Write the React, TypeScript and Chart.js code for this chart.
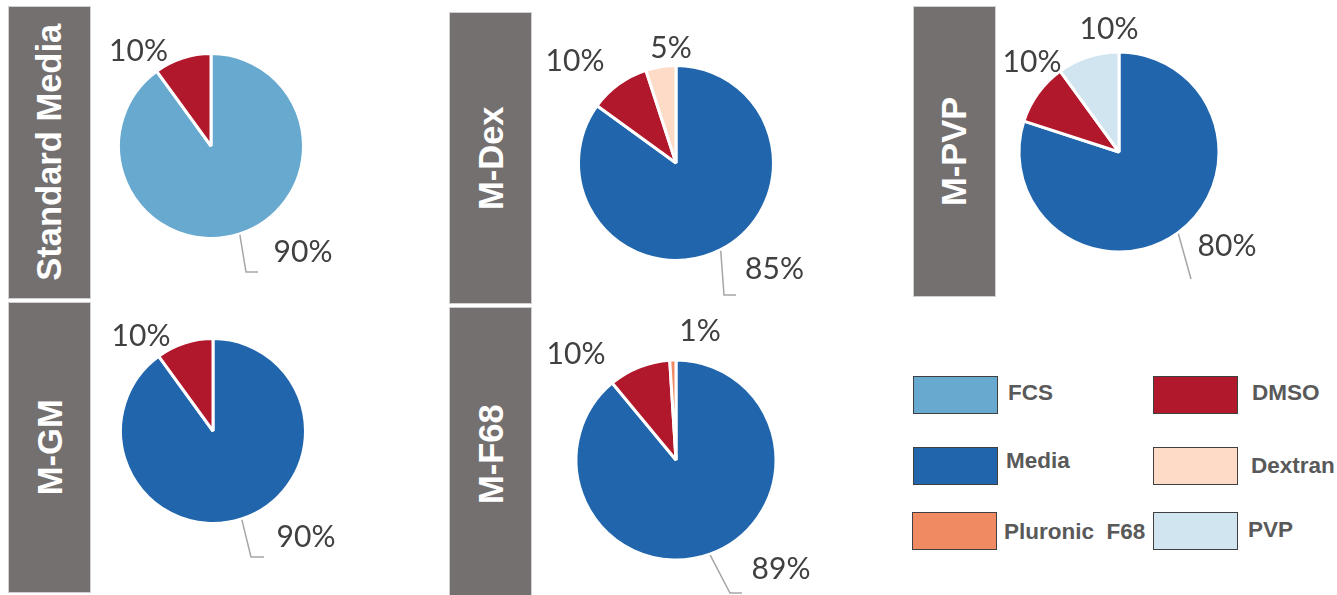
import React, { useEffect, useRef } from "react";
import { Chart, registerables } from "chart.js";

Chart.register(...registerables);

// ---------------- DATA ----------------
const legendItems = ["FCS", "DMSO", "Media", "Dextran", "Pluronic  F68", "PVP"];
const panelTitles = ["Standard Media", "M-Dex", "M-PVP", "M-GM", "M-F68"];

const standardMediaParts = ["FCS", "DMSO"];
const standardMediaValues = [90, 10];

const mDexParts = ["Media", "DMSO", "Dextran"];
const mDexValues = [85, 10, 5];

const mPvpParts = ["Media", "DMSO", "PVP"];
const mPvpValues = [80, 10, 10];

const mGmParts = ["Media", "DMSO"];
const mGmValues = [90, 10];

const mF68Parts = ["Media", "DMSO", "Pluronic  F68"];
const mF68Values = [89, 10, 1];

const panelParts = [standardMediaParts, mDexParts, mPvpParts, mGmParts, mF68Parts];
const panelValues = [standardMediaValues, mDexValues, mPvpValues, mGmValues, mF68Values];

// ---------------- STYLE / LAYOUT ----------------
const colorOf: Record<string, string> = {
  FCS: "#67A9CF",
  DMSO: "#B2182B",
  Media: "#2166AC",
  Dextran: "#FDDBC7",
  "Pluronic  F68": "#EF8A62",
  PVP: "#D1E5F0",
};

type Layout = {
  bar: { left: number; top: number; width: number; height: number };
  pie: { cx: number; cy: number; r: number };
  labelOffsets: number[][];
  leader: number[][];
};

const layouts: Layout[] = [
  {
    bar: { left: 8, top: 6, width: 83, height: 293 },
    pie: { cx: 211, cy: 146, r: 91 },
    labelOffsets: [[92, 106.5], [-72.5, -95]],
    leader: [[35, 126], [47, 126]],
  },
  {
    bar: { left: 449, top: 12, width: 83, height: 292 },
    pie: { cx: 675.5, cy: 162.5, r: 96 },
    labelOffsets: [[98.5, 106], [-101, -101.5], [-5, -115]],
    leader: [[48, 132], [60, 132]],
  },
  {
    bar: { left: 913, top: 6, width: 83, height: 291 },
    pie: { cx: 1119, cy: 152, r: 98.5 },
    labelOffsets: [[108, 94.5], [-87, -89.5], [-10, -123]],
    leader: [[72, 127], [72, 127]],
  },
  {
    bar: { left: 8, top: 302, width: 83, height: 291 },
    pie: { cx: 213, cy: 431, r: 91 },
    labelOffsets: [[93, 106], [-72, -95]],
    leader: [[38, 126], [51, 126]],
  },
  {
    bar: { left: 449, top: 307, width: 83, height: 295 },
    pie: { cx: 676, cy: 459.5, r: 98.5 },
    labelOffsets: [[105, 109], [-100, -106], [24, -128.5]],
    leader: [[54, 133], [66, 133]],
  },
];

const legendPos = [
  { box: [913, 376], text: [1008, 393] },
  { box: [1153, 376], text: [1252, 393] },
  { box: [913, 447], text: [1006, 461] },
  { box: [1153, 447], text: [1251, 466] },
  { box: [912, 512], text: [1004, 532] },
  { box: [1153, 512], text: [1248, 530] },
];

const CANVAS_W = 360;
const CANVAS_H = 320;

const pieLabelPlugin = {
  id: "pieLabels",
  afterDatasetsDraw(chart: any) {
    const cfg = chart.options.plugins.pieLabels;
    const ctx = chart.ctx;
    const meta = chart.getDatasetMeta(0);
    const data = chart.data.datasets[0].data;
    ctx.save();
    // leader line for the largest slice (index 0)
    const a0: any = meta.data[0];
    if (a0) {
      const mid = (a0.startAngle + a0.endAngle) / 2;
      const sx = a0.x + Math.cos(mid) * (a0.outerRadius + 1);
      const sy = a0.y + Math.sin(mid) * (a0.outerRadius + 1);
      ctx.strokeStyle = "#A6A6A6";
      ctx.lineWidth = 1.5;
      ctx.beginPath();
      ctx.moveTo(sx, sy);
      ctx.lineTo(a0.x + cfg.leader[0][0], a0.y + cfg.leader[0][1]);
      ctx.lineTo(a0.x + cfg.leader[1][0], a0.y + cfg.leader[1][1]);
      ctx.stroke();
    }
    ctx.fillStyle = "#404040";
    ctx.font = "30px Lato";
    ctx.textAlign = "center";
    ctx.textBaseline = "middle";
    meta.data.forEach((arc: any, i: number) => {
      const off = cfg.offsets[i];
      ctx.fillText(data[i] + "%", arc.x + off[0], arc.y + off[1]);
    });
    ctx.restore();
  },
};

function PiePanel({ index }: { index: number }) {
  const ref = useRef<HTMLCanvasElement>(null);
  const lay = layouts[index];
  useEffect(() => {
    if (!ref.current) return;
    const parts = panelParts[index];
    const chart = new Chart(ref.current, {
      type: "pie",
      data: {
        labels: parts,
        datasets: [
          {
            data: panelValues[index],
            backgroundColor: parts.map((p) => colorOf[p]),
            borderColor: "#FFFFFF",
            borderWidth: 3,
          },
        ],
      },
      options: {
        responsive: false,
        animation: false,
        radius: lay.pie.r + 1.5,
        layout: { padding: 0 },
        events: [],
        plugins: {
          legend: { display: false },
          tooltip: { enabled: false },
          pieLabels: { offsets: lay.labelOffsets, leader: lay.leader },
        } as any,
      } as any,
      plugins: [pieLabelPlugin],
    });
    return () => chart.destroy();
  }, [index]);
  return (
    <canvas
      ref={ref}
      width={CANVAS_W}
      height={CANVAS_H}
      style={{
        position: "absolute",
        left: lay.pie.cx - CANVAS_W / 2,
        top: lay.pie.cy - CANVAS_H / 2,
        width: CANVAS_W,
        height: CANVAS_H,
      }}
    />
  );
}

function TitleBar({ index }: { index: number }) {
  const b = layouts[index].bar;
  return (
    <div
      style={{
        position: "absolute",
        left: b.left,
        top: b.top,
        width: b.width,
        height: b.height,
        background: "#757070",
        border: "1px solid #D0D0D0",
        boxSizing: "border-box",
        display: "flex",
        alignItems: "center",
        justifyContent: "center",
        overflow: "hidden",
      }}
    >
      <div
        style={{
          transform: "rotate(-90deg)",
          whiteSpace: "nowrap",
          color: "#FFFFFF",
          fontFamily: "'Liberation Sans', Arial, sans-serif",
          fontWeight: 700,
          fontSize: 34.5,
          lineHeight: 1,
        }}
      >
        {panelTitles[index]}
      </div>
    </div>
  );
}

export default function App() {
  return (
    <div
      style={{
        position: "fixed",
        left: 0,
        top: 0,
        width: 1337,
        height: 595,
        overflow: "hidden",
        background: "#FFFFFF",
      }}
    >
      {layouts.map((_, i) => (
        <TitleBar key={"t" + i} index={i} />
      ))}
      {layouts.map((_, i) => (
        <PiePanel key={"p" + i} index={i} />
      ))}
      {legendItems.map((name, i) => (
        <React.Fragment key={name}>
          <div
            style={{
              position: "absolute",
              left: legendPos[i].box[0],
              top: legendPos[i].box[1],
              width: 85,
              height: 38,
              background: colorOf[name],
              border: "1.5px solid #404040",
              boxSizing: "border-box",
            }}
          />
          <div
            style={{
              position: "absolute",
              left: legendPos[i].text[0],
              top: legendPos[i].text[1],
              transform: "translateY(-50%)",
              whiteSpace: "pre",
              color: "#595959",
              fontFamily: "'Liberation Sans', Arial, sans-serif",
              fontWeight: 700,
              fontSize: 22.5,
              lineHeight: 1,
            }}
          >
            {name}
          </div>
        </React.Fragment>
      ))}
    </div>
  );
}
